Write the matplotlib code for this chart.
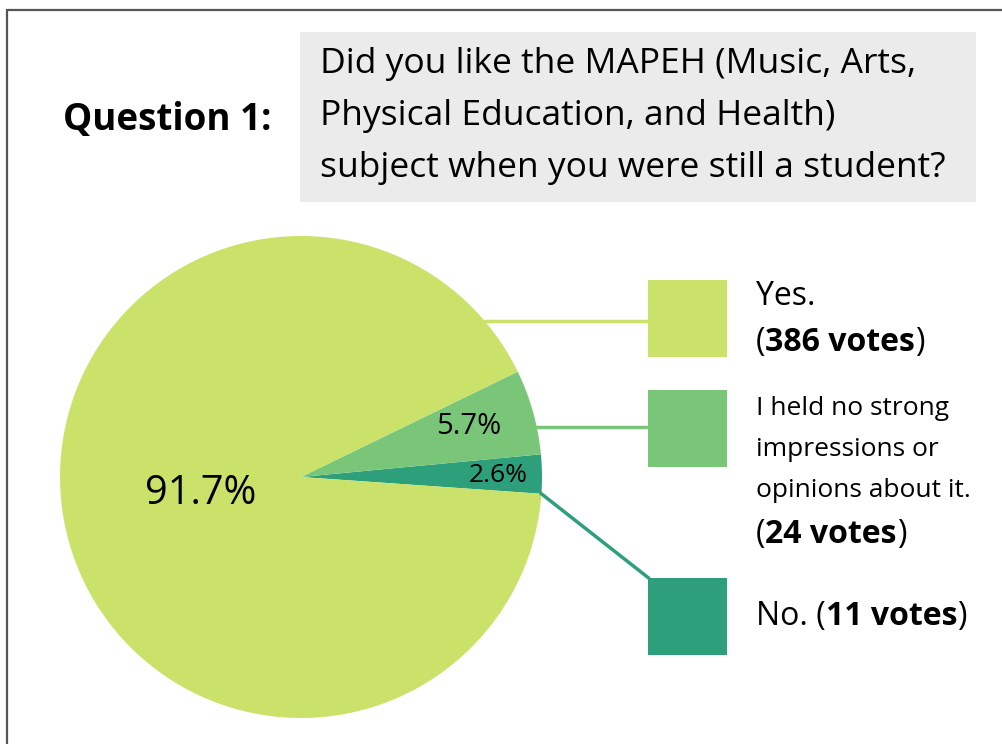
import matplotlib.pyplot as plt
import numpy as np
from matplotlib.patches import Rectangle

# survey answers
labels = ['No.', 'I held no strong impressions or opinions about it.', 'Yes.']
votes = [11, 24, 386]
pct_labels = ['2.6%', '5.7%', '91.7%']
colors = ['#2DA07B', '#79C679', '#CBE26A']

W, H = 1003, 744
FONT = 'Open Sans'

fig = plt.figure(figsize=(W / 100, H / 100), dpi=100)
ax = fig.add_axes([0, 0, 1, 1])
ax.set_xlim(0, W)
ax.set_ylim(0, H)
ax.set_aspect('equal')
ax.axis('off')


def Y(y):
    # top-down pixel row to data y
    return H - y


def runs(x, y, parts, size):
    # draw consecutive text pieces with their own weight on one baseline
    fig.canvas.draw()
    r = fig.canvas.get_renderer()
    for s, w in parts:
        t = ax.text(x, Y(y), s, fontsize=size, fontweight=w, family=FONT,
                    va='baseline', ha='left')
        bb = t.get_window_extent(renderer=r)
        x += bb.width


# frame
ax.plot([7, 7], [Y(10), Y(744)], color='#555555', lw=1.6, solid_capstyle='butt')
ax.plot([6, 1003], [Y(10), Y(10)], color='#555555', lw=1.6, solid_capstyle='butt')

# header
ax.text(63, Y(130), 'Question 1:', fontsize=26.5, fontweight='bold', family=FONT,
        va='baseline', ha='left')
ax.add_patch(Rectangle((300, Y(202)), 676, 170, facecolor='#EBEBEB', edgecolor='none'))
qlines = ['Did you like the MAPEH (Music, Arts,',
          'Physical Education, and Health)',
          'subject when you were still a student?']
for i, s in enumerate(qlines):
    ax.text(320, Y(73 + 52 * i), s, fontsize=25.5, family=FONT, va='baseline', ha='left')

# pie
cx, cy, R = 301, 477, 241
wedges, _ = ax.pie(votes, colors=colors, startangle=-4.0, counterclock=True,
                   center=(cx, Y(cy)), radius=R, frame=True,
                   wedgeprops=dict(linewidth=0))
ax.set_xlim(0, W)
ax.set_ylim(0, H)
ax.axis('off')

ax.text(201, Y(504), pct_labels[2], fontsize=28.5, family=FONT, ha='center', va='baseline')
ax.text(469, Y(434), pct_labels[1], fontsize=21, family=FONT, ha='center', va='baseline')
ax.text(498, Y(482), pct_labels[0], fontsize=19, family=FONT, ha='center', va='baseline')

# legend boxes with leader lines
bx, bw = 648, 79
box_tops = [578, 390, 280]
for w, c, top in zip(wedges, colors, box_tops):
    ax.add_patch(Rectangle((bx, Y(top + 77)), bw, 77, facecolor=c, edgecolor='none'))

# Yes: horizontal line to the box middle
yl = 321
dx = np.sqrt(R ** 2 - (cy - yl) ** 2)
ax.plot([cx + dx, bx], [Y(yl), Y(yl)], color=colors[2], lw=2.5)
# neutral
yl = 427
dx = np.sqrt(R ** 2 - (cy - yl) ** 2)
ax.plot([cx + dx - 4, bx], [Y(yl), Y(yl)], color=colors[1], lw=2.5)
# no: from the lower corner of its wedge down to the box corner
th = np.deg2rad(wedges[0].theta1)
ax.plot([cx + R * np.cos(th), bx], [Y(cy) + R * np.sin(th), Y(box_tops[0]) + 0.5],
        color=colors[0], lw=2.5)

# legend texts
runs(756, 305, [('Yes.', 'normal')], 23)
runs(756, 351, [('(', 'normal'), ('386 votes', 'bold'), (')', 'normal')], 23)
ax.text(756, Y(415), 'I held no strong', fontsize=19, family=FONT, va='baseline')
ax.text(756, Y(456), 'impressions or', fontsize=19, family=FONT, va='baseline')
ax.text(756, Y(497), 'opinions about it.', fontsize=19, family=FONT, va='baseline')
runs(756, 543, [('(', 'normal'), ('24 votes', 'bold'), (')', 'normal')], 23)
runs(756, 625, [('No. (', 'normal'), ('11 votes', 'bold'), (')', 'normal')], 23)

fig.savefig('out.png', dpi=100)
